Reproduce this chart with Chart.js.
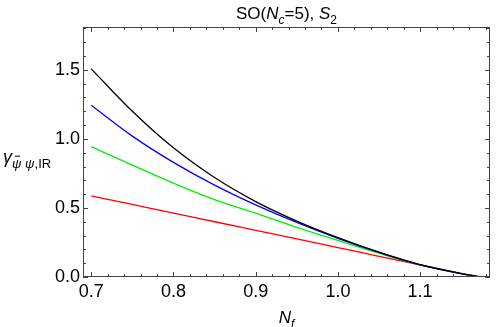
<!DOCTYPE html>
<html>
<head>
<meta charset="utf-8">
<script src="https://cdn.jsdelivr.net/npm/chart.js@4/dist/chart.umd.min.js"></script>
<style>
    html, body { margin: 0; padding: 0; background: #fff; }
    #wrap { width: 498px; height: 327px; }
</style>
</head>
<body>
<div id="wrap"><canvas id="gammaChart" width="498" height="327"></canvas></div>
<script>
// N_f sample points and the four curves
const nfValues = [0.70, 0.75, 0.80, 0.85, 0.90, 0.95, 1.00, 1.05, 1.10, 1.15, 1.173];
const gammaOrder1 = [0.587, 0.525, 0.463, 0.400, 0.338, 0.276, 0.213, 0.150, 0.088, 0.027, 0];   // red
const gammaOrder2 = [0.944, 0.810, 0.680, 0.560, 0.462, 0.360, 0.265, 0.172, 0.087, 0.024, 0];   // green
const gammaOrder3 = [1.243, 1.020, 0.830, 0.665, 0.522, 0.395, 0.280, 0.178, 0.088, 0.024, 0];   // blue
const gammaOrder4 = [1.507, 1.200, 0.935, 0.720, 0.546, 0.405, 0.285, 0.180, 0.090, 0.025, 0];   // black

const xMajorTicks = [0.7, 0.8, 0.9, 1.0, 1.1];
const yMajorTicks = [0.0, 0.5, 1.0, 1.5];
const xMinorTicks = [0.72, 0.74, 0.76, 0.78, 0.82, 0.84, 0.86, 0.88, 0.92, 0.94, 0.96, 0.98,
    1.02, 1.04, 1.06, 1.08, 1.12, 1.14, 1.16, 1.18];
const yMinorTicks = [0.1, 0.2, 0.3, 0.4, 0.6, 0.7, 0.8, 0.9, 1.1, 1.2, 1.3, 1.4, 1.6, 1.7, 1.8];

const FONT = '"Liberation Sans", Arial, sans-serif';

const toPoints = (ys) => nfValues.map((x, i) => ({ x: x, y: ys[i] }));

// draw a row of text pieces (italic / subscript / overbar) starting at x
function drawRuns(ctx, runs, x, y, size, align) {
    const subSize = Math.round(size * 0.72);
    const fontFor = (r) => (r.i ? 'italic ' : '') + (r.sub ? subSize : size) + 'px ' + FONT;
    let total = 0;
    runs.forEach((r) => {
        ctx.font = fontFor(r);
        total += ctx.measureText(r.t).width;
    });
    let cx = align === 'center' ? x - total / 2 : x;
    ctx.textBaseline = 'alphabetic';
    ctx.textAlign = 'left';
    runs.forEach((r) => {
        ctx.font = fontFor(r);
        const by = r.sub ? y + size * 0.28 : y;
        const w = ctx.measureText(r.t).width;
        ctx.fillText(r.t, cx, by);
        if (r.bar) {
            const fs = r.sub ? subSize : size;
            ctx.fillRect(cx + w * 0.3, by - fs * 0.95, w * 0.55, 1);
        }
        cx += w;
    });
}

const framePlugin = {
    id: 'frame',
    afterDraw(chart) {
        const ctx = chart.ctx;
        const area = chart.chartArea;
        const xs = chart.scales.x;
        const ys = chart.scales.y;

        ctx.save();
        ctx.strokeStyle = '#444';
        ctx.lineWidth = 1;
        ctx.strokeRect(area.left + 0.5, area.top + 0.5, area.right - area.left - 1, area.bottom - area.top - 1);

        const tick = (vals, len, horizontal) => {
            vals.forEach((v) => {
                ctx.beginPath();
                if (horizontal) {
                    const px = Math.round(xs.getPixelForValue(v)) + 0.5;
                    ctx.moveTo(px, area.bottom);
                    ctx.lineTo(px, area.bottom - len);
                    ctx.moveTo(px, area.top);
                    ctx.lineTo(px, area.top + len);
                } else {
                    const py = Math.round(ys.getPixelForValue(v)) + 0.5;
                    ctx.moveTo(area.left, py);
                    ctx.lineTo(area.left + len, py);
                    ctx.moveTo(area.right, py);
                    ctx.lineTo(area.right - len, py);
                }
                ctx.stroke();
            });
        };
        tick(xMajorTicks, 5, true);
        tick(xMinorTicks, 3, true);
        tick(yMajorTicks, 5, false);
        tick(yMinorTicks, 3, false);

        ctx.fillStyle = '#000';
        drawRuns(ctx, [
            { t: 'SO(' }, { t: 'N', i: true }, { t: 'c', i: true, sub: true },
            { t: '=5), ' }, { t: 'S', i: true }, { t: '2', sub: true },
        ], (area.left + area.right) / 2, 19, 17, 'center');

        drawRuns(ctx, [
            { t: 'N', i: true }, { t: 'f', i: true, sub: true },
        ], (area.left + area.right) / 2, 323, 17, 'center');

        drawRuns(ctx, [
            { t: 'γ', i: true }, { t: 'ψ', i: true, sub: true, bar: true }, { t: ' ψ', i: true, sub: true },
            { t: ',IR', sub: true },
        ], 3, 163, 18, 'left');
        ctx.restore();
    },
};

const lineStyle = (color) => ({
    borderColor: color,
    backgroundColor: color,
    borderWidth: 1.3,
    pointRadius: 0,
    fill: false,
    cubicInterpolationMode: 'monotone',
});

new Chart(document.getElementById('gammaChart'), {
    type: 'line',
    data: {
        datasets: [
            { label: 'order 4', data: toPoints(gammaOrder4), ...lineStyle('#000000') },
            { label: 'order 3', data: toPoints(gammaOrder3), ...lineStyle('#0000ff') },
            { label: 'order 2', data: toPoints(gammaOrder2), ...lineStyle('#00ee00') },
            { label: 'order 1', data: toPoints(gammaOrder1), ...lineStyle('#ff0000') },
        ],
    },
    options: {
        responsive: false,
        animation: false,
        layout: { padding: { top: 27, right: 8, left: 0, bottom: 0 } },
        plugins: {
            legend: { display: false },
            tooltip: { enabled: false },
        },
        scales: {
            x: {
                type: 'linear',
                min: 0.69,
                max: 1.185,
                grid: { display: false, drawTicks: false },
                border: { display: false },
                afterBuildTicks: (scale) => { scale.ticks = xMajorTicks.map((v) => ({ value: v })); },
                afterFit: (scale) => { scale.height = 50; },
                ticks: {
                    padding: 4,
                    color: '#000',
                    maxRotation: 0,
                    autoSkip: false,
                    font: { family: FONT, size: 18 },
                    callback: (v) => Number(v).toFixed(1),
                },
            },
            y: {
                type: 'linear',
                min: 0,
                max: 1.81,
                grid: { display: false, drawTicks: false },
                border: { display: false },
                afterBuildTicks: (scale) => { scale.ticks = yMajorTicks.map((v) => ({ value: v })); },
                afterFit: (scale) => { scale.width = 83; },
                ticks: {
                    padding: 3,
                    color: '#000',
                    autoSkip: false,
                    font: { family: FONT, size: 18 },
                    callback: (v) => Number(v).toFixed(1),
                },
            },
        },
    },
    plugins: [framePlugin],
});
</script>
</body>
</html>
